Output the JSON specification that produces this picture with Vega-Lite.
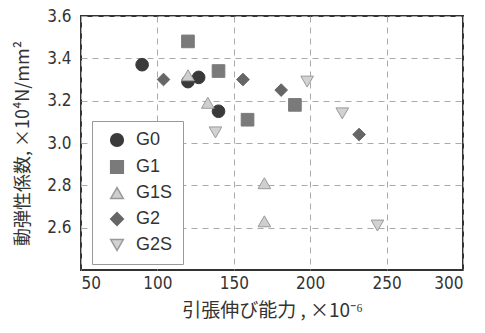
{
  "$schema": "https://vega.github.io/schema/vega-lite/v6.json",
  "width": 382,
  "height": 254,
  "autosize": "none",
  "padding": {"left": 81, "top": 16, "right": 22, "bottom": 63},
  "background": "white",
  "config": {
    "view": {"stroke": "#333333", "strokeWidth": 2},
    "axis": {
      "labelFont": "DejaVu Sans Condensed, Liberation Sans Narrow, Liberation Sans",
      "labelFontSize": 17,
      "labelColor": "#333333",
      "titleFont": "Noto Sans CJK JP",
      "titleFontSize": 17,
      "titleFontWeight": "normal",
      "titleColor": "#333333",
      "grid": true,
      "gridColor": "#aaaaaa",
      "gridDash": [6, 5],
      "gridWidth": 1,
      "ticks": false,
      "domain": false
    }
  },
  "data": {
    "values": [
      {"x": 90, "y": 3.37, "g": "G0"},
      {"x": 120, "y": 3.29, "g": "G0"},
      {"x": 127, "y": 3.31, "g": "G0"},
      {"x": 140, "y": 3.15, "g": "G0"},
      {"x": 120, "y": 3.48, "g": "G1"},
      {"x": 140, "y": 3.34, "g": "G1"},
      {"x": 159, "y": 3.11, "g": "G1"},
      {"x": 190, "y": 3.18, "g": "G1"},
      {"x": 120, "y": 3.32, "g": "G1S"},
      {"x": 133, "y": 3.19, "g": "G1S"},
      {"x": 170, "y": 2.81, "g": "G1S"},
      {"x": 170, "y": 2.63, "g": "G1S"},
      {"x": 104, "y": 3.30, "g": "G2"},
      {"x": 156, "y": 3.30, "g": "G2"},
      {"x": 181, "y": 3.25, "g": "G2"},
      {"x": 232, "y": 3.04, "g": "G2"},
      {"x": 138, "y": 3.05, "g": "G2S"},
      {"x": 198, "y": 3.29, "g": "G2S"},
      {"x": 221, "y": 3.14, "g": "G2S"},
      {"x": 244, "y": 2.61, "g": "G2S"}
    ]
  },
  "mark": {"type": "point", "filled": true, "size": 160, "strokeWidth": 1, "opacity": 1},
  "encoding": {
    "x": {
      "field": "x", "type": "quantitative",
      "scale": {"domain": [50, 300], "nice": false, "zero": false},
      "axis": {"values": [50, 100, 150, 200, 250, 300], "labelPadding": 5, "title": "引張伸び能力 , ×10⁻⁶", "titleFontSize": 19, "titlePadding": 10}
    },
    "y": {
      "field": "y", "type": "quantitative",
      "scale": {"domain": [2.4, 3.6], "nice": false, "zero": false},
      "axis": {"values": [2.6, 2.8, 3.0, 3.2, 3.4, 3.6], "format": ".1f", "labelPadding": 10, "title": "動弾性係数, ×10⁴N/mm²", "titleFontSize": 18, "titlePadding": 14}
    },
    "shape": {
      "field": "g", "type": "nominal",
      "scale": {"domain": ["G0", "G1", "G1S", "G2", "G2S"], "range": ["circle", "square", "triangle-up", "diamond", "triangle-down"]},
      "legend": {
        "title": null, "orient": "none", "legendX": 11, "legendY": 105,
        "padding": 10, "strokeColor": "#999999", "fillColor": "white",
        "labelFont": "Liberation Sans", "labelFontSize": 18, "labelColor": "#333333",
        "symbolSize": 160, "rowPadding": 7, "labelOffset": 10, "symbolOffset": 6
      }
    },
    "fill": {
      "field": "g", "type": "nominal",
      "scale": {"domain": ["G0", "G1", "G1S", "G2", "G2S"], "range": ["#3a3a3a", "#7a7a7a", "#cfcfcf", "#666666", "#d2d2d2"]},
      "legend": null
    },
    "stroke": {
      "field": "g", "type": "nominal",
      "scale": {"domain": ["G0", "G1", "G1S", "G2", "G2S"], "range": ["#3a3a3a", "#7a7a7a", "#999999", "#666666", "#999999"]},
      "legend": null
    }
  }
}
